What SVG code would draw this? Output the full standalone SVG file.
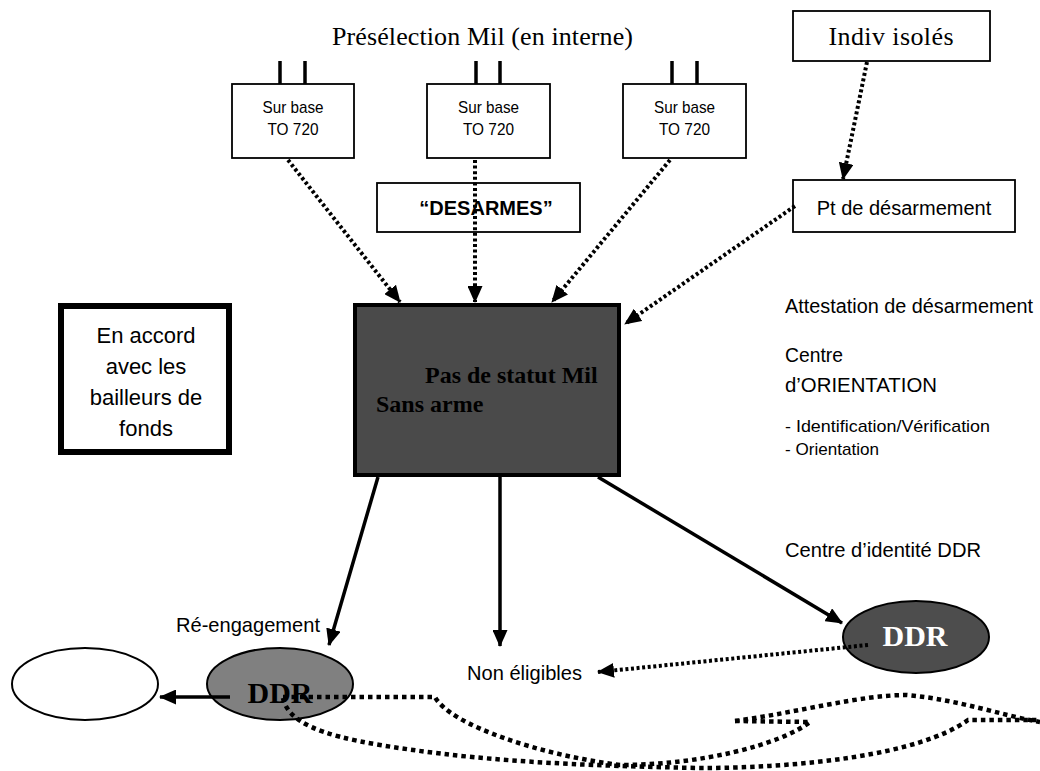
<svg xmlns="http://www.w3.org/2000/svg" width="1040" height="771" viewBox="0 0 1040 771">
<style>
.sans{font-family:"Liberation Sans",Arial,sans-serif;fill:#000}
.serif{font-family:"Liberation Serif","Times New Roman",serif;fill:#000}
.box{fill:#fff;stroke:#000;stroke-width:1.8}
.dot{fill:none;stroke:#000;stroke-width:4;stroke-dasharray:3 2.6}
.curve{fill:none;stroke:#000;stroke-width:4.5;stroke-dasharray:4.5 4}
.solid{fill:none;stroke:#000;stroke-width:3.5}
.post{stroke:#000;stroke-width:3.5}
.white{fill:#fff}
</style>
<defs>
<marker id="ah" markerUnits="userSpaceOnUse" markerWidth="17" markerHeight="15" refX="16" refY="7.5" orient="auto">
<path d="M0,0 L17,7.5 L0,15 z" fill="#000"/>
</marker>
</defs>
<rect width="1040" height="771" fill="#fff"/>

<g id="title"><text class="serif" x="332" y="45" font-size="26" textLength="301">Présélection Mil (en interne)</text></g>

<g id="box1">
<line class="post" x1="280" y1="61" x2="280" y2="84"/><line class="post" x1="305" y1="61" x2="305" y2="84"/>
<rect class="box" x="232" y="84" width="122" height="74"/>
<text class="sans" x="293" y="113" font-size="17" text-anchor="middle" textLength="61" lengthAdjust="spacingAndGlyphs">Sur base</text>
<text class="sans" x="293" y="135" font-size="17" text-anchor="middle" textLength="51" lengthAdjust="spacingAndGlyphs">TO 720</text>
</g>
<g id="box2">
<line class="post" x1="476" y1="61" x2="476" y2="84"/><line class="post" x1="500" y1="61" x2="500" y2="84"/>
<rect class="box" x="427" y="84" width="123" height="74"/>
<text class="sans" x="488.5" y="113" font-size="17" text-anchor="middle" textLength="61" lengthAdjust="spacingAndGlyphs">Sur base</text>
<text class="sans" x="488.5" y="135" font-size="17" text-anchor="middle" textLength="51" lengthAdjust="spacingAndGlyphs">TO 720</text>
</g>
<g id="box3">
<line class="post" x1="672" y1="61" x2="672" y2="84"/><line class="post" x1="697" y1="61" x2="697" y2="84"/>
<rect class="box" x="623" y="84" width="123" height="74"/>
<text class="sans" x="684.5" y="113" font-size="17" text-anchor="middle" textLength="61" lengthAdjust="spacingAndGlyphs">Sur base</text>
<text class="sans" x="684.5" y="135" font-size="17" text-anchor="middle" textLength="51" lengthAdjust="spacingAndGlyphs">TO 720</text>
</g>

<g id="indiv">
<rect class="box" x="793" y="11" width="197" height="50"/>
<text class="serif" x="891" y="45" font-size="26" text-anchor="middle" textLength="125">Indiv isolés</text>
</g>

<g id="desarmes">
<rect class="box" x="377" y="183" width="203" height="49"/>
<text class="sans" x="486" y="215" font-size="20" font-weight="bold" text-anchor="middle">“DESARMES”</text>
</g>

<g id="pt">
<rect class="box" x="793" y="180" width="222" height="52"/>
<text class="sans" x="904" y="215" font-size="20" text-anchor="middle">Pt de désarmement</text>
</g>

<g id="main">
<rect x="355" y="305" width="264" height="170" fill="#4a4a4a" stroke="#000" stroke-width="4"/>
<text class="serif" x="425" y="383" font-size="24" font-weight="bold">Pas de statut Mil</text>
<text class="serif" x="376" y="412" font-size="24" font-weight="bold">Sans arme</text>
</g>

<g id="accord">
<rect x="61" y="306" width="168" height="146" fill="#fff" stroke="#000" stroke-width="6"/>
<text class="sans" x="146" y="343" font-size="22" text-anchor="middle">En accord</text>
<text class="sans" x="146" y="374" font-size="22" text-anchor="middle">avec les</text>
<text class="sans" x="146" y="405" font-size="22" text-anchor="middle">bailleurs de</text>
<text class="sans" x="146" y="436" font-size="22" text-anchor="middle">fonds</text>
</g>

<g id="labels">
<text class="sans" x="785" y="313" font-size="20" textLength="248" lengthAdjust="spacingAndGlyphs">Attestation de désarmement</text>
<text class="sans" x="785" y="362" font-size="21" textLength="58" lengthAdjust="spacingAndGlyphs">Centre</text>
<text class="sans" x="785" y="392" font-size="21" textLength="152" lengthAdjust="spacingAndGlyphs">d’ORIENTATION</text>
<text class="sans" x="785" y="432" font-size="17" textLength="205" lengthAdjust="spacingAndGlyphs">- Identification/Vérification</text>
<text class="sans" x="785" y="455" font-size="17" textLength="94" lengthAdjust="spacingAndGlyphs">- Orientation</text>
<text class="sans" x="785" y="557" font-size="21" textLength="196" lengthAdjust="spacingAndGlyphs">Centre d’identité DDR</text>
<text class="sans" x="176" y="632" font-size="21" textLength="144" lengthAdjust="spacingAndGlyphs">Ré-engagement</text>
<text class="sans" x="467" y="680" font-size="21" textLength="115" lengthAdjust="spacingAndGlyphs">Non éligibles</text>
</g>

<g id="ellipse-blank"><ellipse cx="85" cy="684" rx="73" ry="36" fill="#fff" stroke="#000" stroke-width="2"/></g>
<g id="ddr-left">
<ellipse cx="280" cy="684" rx="73" ry="36" fill="#808080" stroke="#000" stroke-width="2"/>
<text class="serif" x="280" y="703" font-size="30" font-weight="bold" text-anchor="middle">DDR</text>
</g>
<g id="ddr-right">
<ellipse cx="916" cy="637" rx="73" ry="36" fill="#4d4d4d" stroke="#000" stroke-width="2"/>
<text class="serif white" x="915" y="646" font-size="30" font-weight="bold" text-anchor="middle">DDR</text>
</g>

<g id="connectors">
<line class="dot" x1="288" y1="160" x2="400" y2="302" marker-end="url(#ah)"/>
<line class="dot" x1="475" y1="160" x2="475" y2="302" marker-end="url(#ah)"/>
<line class="dot" x1="670" y1="160" x2="552" y2="302" marker-end="url(#ah)"/>
<line class="dot" x1="867" y1="62" x2="843" y2="179" marker-end="url(#ah)"/>
<line class="dot" x1="795" y1="206" x2="625" y2="324" marker-end="url(#ah)"/>
<line class="dot" x1="868" y1="645" x2="598" y2="672" marker-end="url(#ah)"/>
<line class="solid" x1="378" y1="477" x2="329" y2="645" marker-end="url(#ah)"/>
<line class="solid" x1="500" y1="477" x2="500" y2="646" marker-end="url(#ah)"/>
<line class="solid" x1="598" y1="477" x2="842" y2="623" marker-end="url(#ah)"/>
<line class="solid" x1="230" y1="697" x2="160" y2="697" marker-end="url(#ah)"/>
<path class="curve" d="M283,697 L435,697 C450,725 540,755 620,765 C700,765 780,745 810,722 L735,721"/>
<path class="curve" d="M283,698 C288,722 320,735 380,745 C460,758 540,765 700,768 C800,768 920,755 968,720 L1040,720"/>
<path class="curve" d="M735,721 C800,712 860,695 907,695 C960,700 1000,715 1040,722"/>
</g>
</svg>
